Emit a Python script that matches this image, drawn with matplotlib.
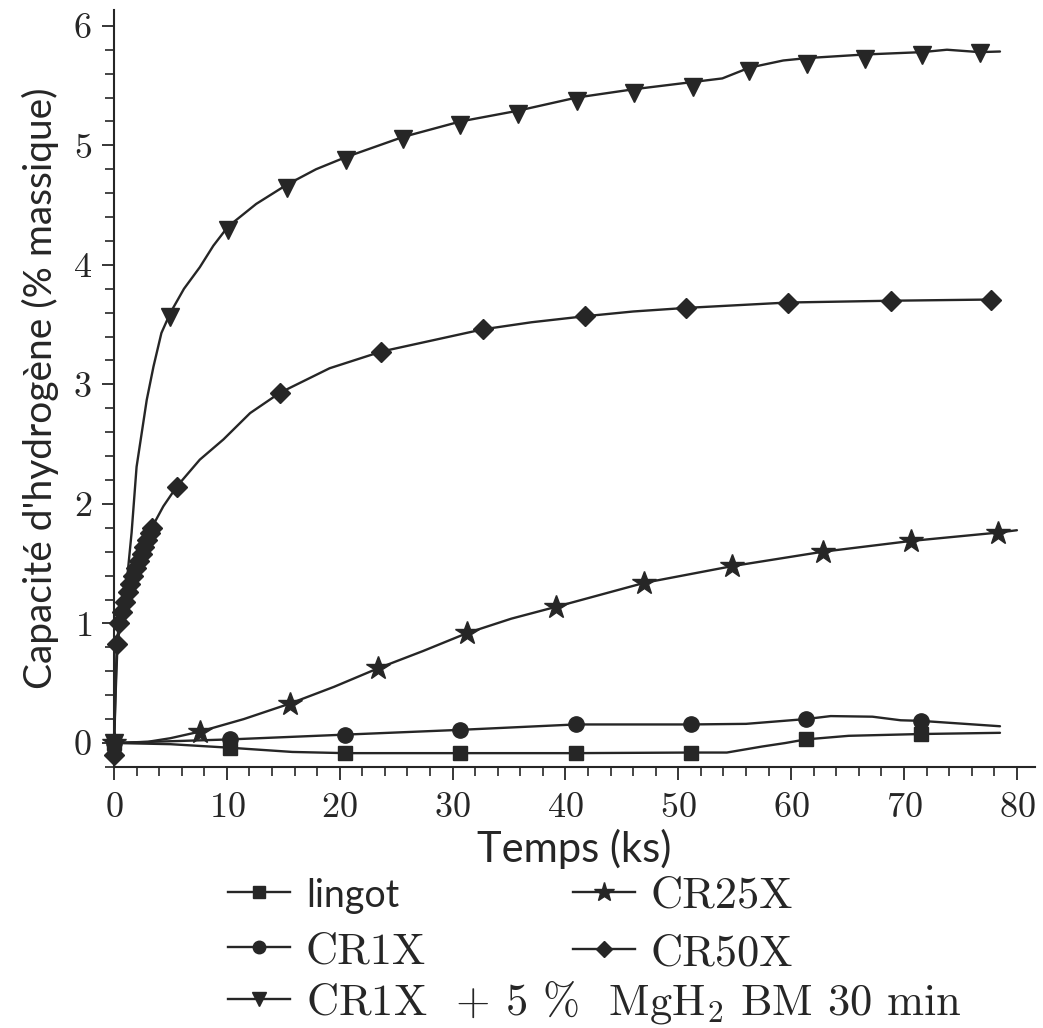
import matplotlib
matplotlib.use('Agg')
import matplotlib.pyplot as plt
from matplotlib.lines import Line2D
from matplotlib.ticker import MultipleLocator

plt.rcParams['font.family'] = ['cmr10', 'DejaVu Serif']
plt.rcParams['mathtext.fontset'] = 'cm'
plt.rcParams['axes.formatter.use_mathtext'] = True

# ---------------- data ----------------
# lingot (squares)
lingot_x = [0, 5, 10.3, 15.8, 20.5, 30.7, 40.9, 51.1, 54.3, 57.4, 59.5, 61.3, 65.1, 71.5, 78.5]
lingot_y = [0, -0.01, -0.04, -0.075, -0.085, -0.085, -0.085, -0.08, -0.08, -0.03, 0.0, 0.03, 0.06, 0.075, 0.085]
lingot_mx = [0, 10.3, 20.5, 30.7, 40.9, 51.1, 61.3, 71.5]
lingot_my = [0, -0.04, -0.085, -0.085, -0.085, -0.08, 0.03, 0.075]

# CR1X (circles)
cr1_x = [0, 10.3, 20.5, 30.7, 40.9, 51.1, 56.0, 61.3, 63.5, 67.2, 69.7, 71.5, 78.5]
cr1_y = [0, 0.03, 0.07, 0.11, 0.155, 0.155, 0.16, 0.20, 0.225, 0.22, 0.19, 0.185, 0.14]
cr1_mx = [0, 10.3, 20.5, 30.7, 40.9, 51.1, 61.3, 71.5]
cr1_my = [0, 0.03, 0.07, 0.11, 0.155, 0.155, 0.20, 0.185]

# CR25X (stars)
cr25_x = [0, 3, 5, 7.6, 11.5, 15.6, 19.5, 23.4, 27.4, 31.3, 35.2, 39.2, 47.0, 54.8, 62.8, 70.6, 78.3, 80.0]
cr25_y = [0, 0.01, 0.04, 0.095, 0.2, 0.33, 0.47, 0.625, 0.77, 0.92, 1.04, 1.14, 1.34, 1.48, 1.60, 1.69, 1.76, 1.78]
cr25_mx = [0, 7.6, 15.6, 23.4, 31.3, 39.2, 47.0, 54.8, 62.8, 70.6, 78.3]
cr25_my = [0, 0.095, 0.33, 0.625, 0.92, 1.14, 1.34, 1.48, 1.60, 1.69, 1.76]

# CR50X (diamonds)
cr50_x = [0, 0.24, 0.45, 0.7, 0.95, 1.2, 1.45, 1.7, 1.95, 2.2, 2.45, 2.7, 2.95, 3.2, 3.34,
          4.37, 5.56, 7.6, 9.7, 12.06, 14.7, 19.1, 23.7, 28.3, 32.65, 37.0, 41.7, 46.0, 50.7, 59.7, 68.8, 77.7]
cr50_y = [-0.1, 0.83, 1.0, 1.1, 1.18, 1.26, 1.33, 1.40, 1.46, 1.52, 1.58, 1.64, 1.70, 1.76, 1.80,
          1.98, 2.145, 2.37, 2.54, 2.76, 2.93, 3.135, 3.275, 3.37, 3.46, 3.52, 3.57, 3.61, 3.64, 3.685, 3.70, 3.71]
cr50_mx = [0, 0.24, 0.45, 0.7, 0.95, 1.2, 1.45, 1.7, 1.95, 2.2, 2.45, 2.7, 2.95, 3.2, 3.34,
           5.56, 14.7, 23.7, 32.65, 41.7, 50.7, 59.7, 68.8, 77.7]
cr50_my = [-0.1, 0.83, 1.0, 1.1, 1.18, 1.26, 1.33, 1.40, 1.46, 1.52, 1.58, 1.64, 1.70, 1.76, 1.80,
           2.145, 2.93, 3.275, 3.46, 3.57, 3.64, 3.685, 3.70, 3.71]

# CR1X + 5 % MgH2 BM 30 min (down triangles)
mg_x = [0, 0.1, 0.3, 0.6, 0.97, 1.27, 1.56, 2.0, 2.9, 3.5, 4.2, 5.0, 6.2, 7.6, 8.8, 10.1, 12.6, 15.3, 17.9, 20.5,
        25.6, 30.7, 35.8, 41.0, 46.1, 51.3, 53.9, 56.3, 59.3, 61.4, 66.5, 71.6, 73.8, 76.7, 78.5]
mg_y = [0, 0.3, 0.8, 1.05, 1.2, 1.48, 1.76, 2.31, 2.87, 3.15, 3.43, 3.6, 3.8, 3.98, 4.16, 4.32, 4.51, 4.67, 4.8, 4.9,
        5.07, 5.2, 5.29, 5.4, 5.47, 5.53, 5.56, 5.65, 5.71, 5.73, 5.76, 5.78, 5.80, 5.78, 5.785]
mg_mx = [0, 5.0, 10.1, 15.3, 20.6, 25.6, 30.7, 35.8, 41.0, 46.1, 51.3, 56.3, 61.4, 66.5, 71.6, 76.7]
mg_my = [0, 3.56, 4.29, 4.64, 4.88, 5.05, 5.17, 5.26, 5.37, 5.44, 5.49, 5.62, 5.68, 5.72, 5.76, 5.77]

labels = ['lingot', 'CR1X', 'CR25X', 'CR50X', 'CR1X  + 5 %  MgH$_2$ BM 30 min']

x_ticks = [0, 10, 20, 30, 40, 50, 60, 70, 80]
y_ticks = [0, 1, 2, 3, 4, 5, 6]

# ---------------- figure ----------------
C = '#262626'
fig = plt.figure(figsize=(10.43, 10.28), dpi=100)
ax = fig.add_axes([0.1093, 0.254, 0.883, 0.736])

series = [
    (lingot_x, lingot_y, lingot_mx, lingot_my, 's', 10, 9),
    (cr1_x, cr1_y, cr1_mx, cr1_my, 'o', 11, 9),
    (cr25_x, cr25_y, cr25_mx, cr25_my, '*', 17.5, 15),
    (cr50_x, cr50_y, cr50_mx, cr50_my, 'D', 10, 8.5),
    (mg_x, mg_y, mg_mx, mg_my, 'v', 13, 10.5),
]
handles = []
for (x, y, mx, my, m, ms, lms) in series:
    ax.plot(x, y, color=C, lw=1.7, solid_capstyle='round', solid_joinstyle='round',
            clip_on=False, zorder=2)
    ax.plot(mx, my, ls='none', marker=m, ms=ms, color=C, mec=C, clip_on=False, zorder=3)
    handles.append(Line2D([], [], color=C, lw=1.7, marker=m, ms=lms, mec=C))

ax.set_xlim(0, 81.6)
ax.set_ylim(-0.2, 6.13)
ax.set_xticks(x_ticks)
ax.set_yticks(y_ticks)
ax.xaxis.set_minor_locator(MultipleLocator(2))
ax.yaxis.set_minor_locator(MultipleLocator(0.2))
for s in ['top', 'right']:
    ax.spines[s].set_visible(False)
for s in ['left', 'bottom']:
    ax.spines[s].set_linewidth(1.5)
    ax.spines[s].set_color(C)
ax.tick_params(which='major', direction='out', length=9, width=1.3, colors=C, labelsize=26)
ax.tick_params(which='minor', direction='out', length=6.5, width=1.2, colors=C)
ax.tick_params(axis='y', which='major', pad=7)
ax.tick_params(axis='x', which='major', pad=9)

ax.set_xlabel('Temps (ks)', family='Lato', fontsize=30, color=C, labelpad=4)
ax.set_ylabel("Capacité d'hydrogène (% massique)", family='Lato', fontsize=28, color=C, labelpad=10)

common = dict(frameon=False, fontsize=32, handlelength=1.4, handletextpad=0.35,
              borderpad=0, borderaxespad=0, labelcolor=C)
legA = fig.legend([handles[0], handles[1], handles[2], handles[3]], labels[:4],
                  loc='upper left', bbox_to_anchor=(228 / 1043, 1 - 876 / 1028),
                  ncol=2, columnspacing=3.3, labelspacing=0.4, **common)
legA.get_texts()[0].set_fontfamily('Lato')
legA.get_texts()[0].set_fontsize(27)
legB = fig.legend([handles[4]], [labels[4]], loc='upper left',
                  bbox_to_anchor=(228 / 1043, 1 - 978 / 1028), **common)

fig.savefig('out.png', dpi=100)
